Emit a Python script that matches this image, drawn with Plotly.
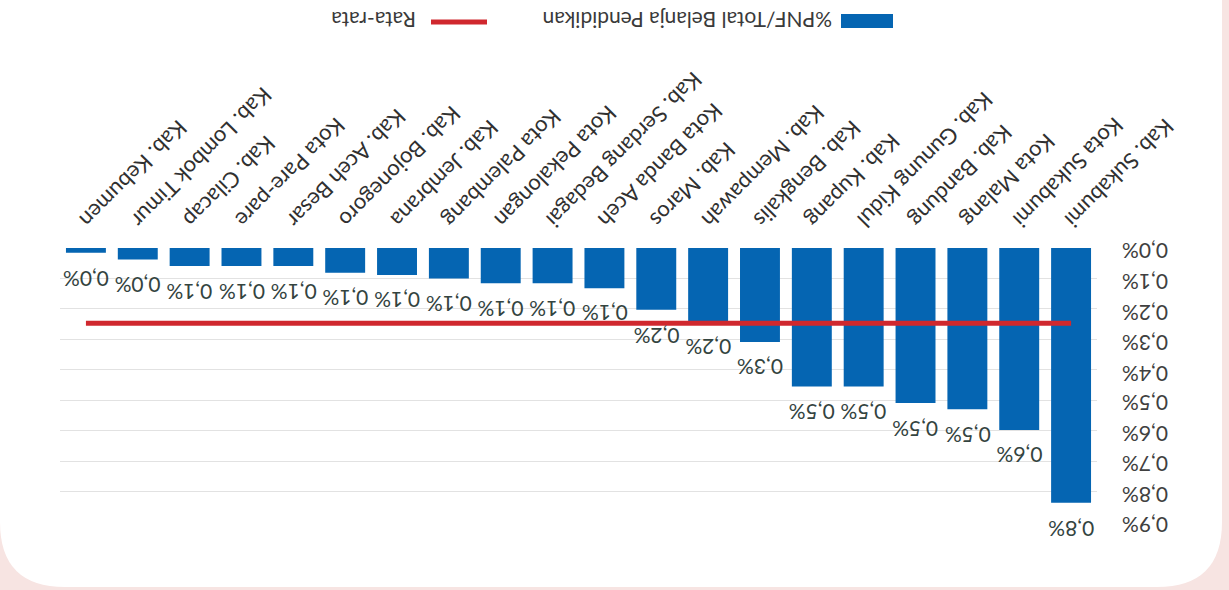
import plotly.graph_objects as go

# Share of non-teaching-staff spending (%PNF) in total education spending, per region
CATEGORIES = [
    "Kab. Sukabumi", "Kota Sukabumi", "Kota Malang", "Kab. Bandung",
    "Kab. Gunung Kidul", "Kab. Kupang", "Kab. Bengkalis", "Kab. Mempawah",
    "Kab. Maros", "Kota Banda Aceh", "Kab. Serdang Bedagai", "Kota Pekalongan",
    "Kota Palembang", "Kab. Jembrana", "Kab. Bojonegoro", "Kab. Aceh Besar",
    "Kota Pare-pare", "Kab. Cilacap", "Kab. Lombok Timur", "Kab. Kebumen",
]
PNF_SHARE = [
    0.837, 0.598, 0.530, 0.509, 0.455, 0.455, 0.309, 0.241, 0.203, 0.132,
    0.116, 0.116, 0.100, 0.089, 0.081, 0.059, 0.059, 0.059, 0.038, 0.016,
]
RATA_RATA = 0.247
Y_TICKS = [0.0, 0.1, 0.2, 0.3, 0.4, 0.5, 0.6, 0.7, 0.8, 0.9]

SERIES_NAME = "%PNF/Total Belanja Pendidikan"
AVG_NAME = "Rata-rata"

W, H = 1229, 590
ML, MR, MT, MB = 60, 132, 248, 68
BLUE = "#0565b2"
RED = "#d0282e"
FONT = "Lato"


def px(x, y):
    """Pixel position on the page -> paper coordinates."""
    return (x - ML) / (W - ML - MR), 1 - (y - MT) / (H - MT - MB)


def pct(v):
    return f"{v:.1f}".replace(".", ",") + "%"


fig = go.Figure()

fig.add_trace(go.Bar(
    x=CATEGORIES, y=PNF_SHARE, name=SERIES_NAME,
    marker=dict(color=BLUE, line=dict(width=0)),
))

fig.add_trace(go.Scatter(
    x=CATEGORIES, y=[RATA_RATA] * len(CATEGORIES), name=AVG_NAME,
    mode="lines", line=dict(color=RED, width=5),
))

annotations = []

# value labels under each bar end, turned upside down like the rest of the chart
for cat, val in zip(CATEGORIES, PNF_SHARE):
    annotations.append(dict(
        x=cat, y=val, xref="x", yref="y", text=pct(val),
        showarrow=False, textangle=180,
        xanchor="center", yanchor="middle", yshift=-26,
        font=dict(family=FONT, size=21, color="#34443f"),
    ))

# value-axis labels on the right, also upside down
yl_x, _ = px(1145, 0)
for t in Y_TICKS:
    annotations.append(dict(
        x=yl_x, y=t, xref="paper", yref="y", text=pct(t),
        showarrow=False, textangle=180,
        xanchor="center", yanchor="middle", yshift=-4,
        font=dict(family=FONT, size=21, color="#404040"),
    ))

# white card with rounded lower corners on a soft pink backdrop
R = 65
x0, y0 = px(0, 0)
x1, y1 = px(1222, 587)
xa, ya = px(R, 587 - R)
xb, _ = px(1222 - R, 0)
card = (f"M {x0} {y0} L {x1} {y0} L {x1} {ya} Q {x1} {y1} {xb} {y1} "
        f"L {xa} {y1} Q {x0} {y1} {x0} {ya} Z")
shapes = [dict(type="path", path=card, xref="paper", yref="paper",
               fillcolor="white", line=dict(width=0), layer="below")]

# legend drawn as shapes + rotated labels
lx0, ly0 = px(841, 14)
lx1, ly1 = px(893, 28)
shapes.append(dict(type="rect", xref="paper", yref="paper",
                   x0=lx0, y0=ly0, x1=lx1, y1=ly1,
                   fillcolor=BLUE, line=dict(width=0)))
rx0, ry = px(431, 22)
rx1, _ = px(487, 22)
shapes.append(dict(type="line", xref="paper", yref="paper",
                   x0=rx0, y0=ry, x1=rx1, y1=ry,
                   line=dict(color=RED, width=5)))

for label, (cx, cy) in [(SERIES_NAME, (687, 21)), (AVG_NAME, (374, 21))]:
    ax, ay = px(cx, cy)
    annotations.append(dict(
        text=label, x=ax, y=ay, xref="paper", yref="paper",
        xanchor="center", yanchor="middle", showarrow=False, textangle=180,
        font=dict(family=FONT, size=21, color="#3a3a3a"),
    ))

fig.update_layout(
    width=W, height=H,
    margin=dict(l=ML, r=MR, t=MT, b=MB),
    paper_bgcolor="#f7e4e2", plot_bgcolor="rgba(0,0,0,0)",
    showlegend=False,
    bargap=0.23,
    shapes=shapes,
    annotations=annotations,
    font=dict(family=FONT, color="#404040"),
    xaxis=dict(
        type="category", autorange="reversed", side="top",
        tickangle=135, showgrid=False, showline=False, ticks="",
        ticklabelstandoff=6,
        tickfont=dict(family=FONT, size=22, color="#303030"),
    ),
    yaxis=dict(
        range=[0.9, 0], side="right", tickvals=Y_TICKS,
        showticklabels=False,
        showgrid=True, gridcolor="#e2e2e2", gridwidth=1,
        zeroline=False, showline=False, ticks="",
    ),
)

fig.write_html("out.html")
